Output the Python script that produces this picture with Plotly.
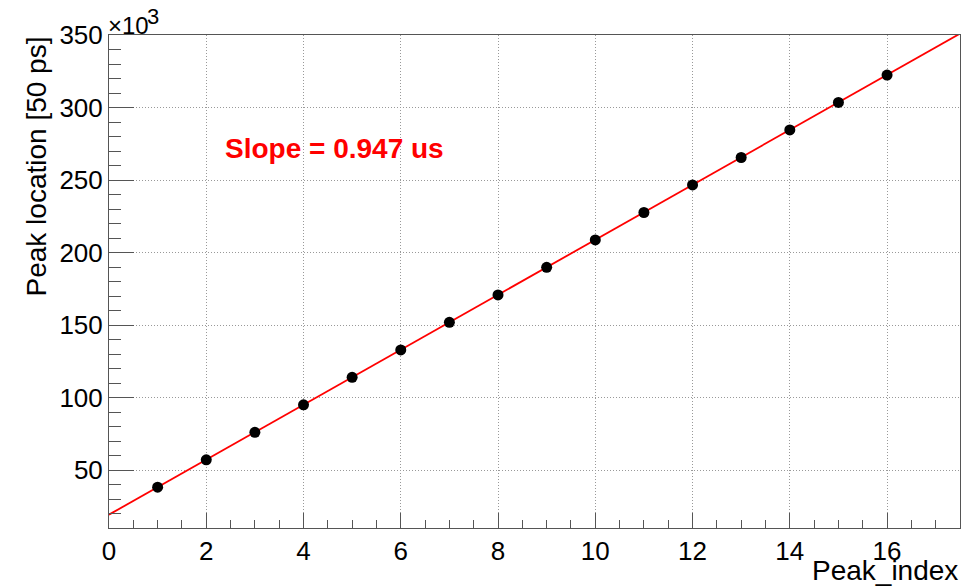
import plotly.graph_objects as go

# Data (peak location in units of 50 ps, shown in thousands)
peak_index = [1, 2, 3, 4, 5, 6, 7, 8, 9, 10, 11, 12, 13, 14, 15, 16]
peak_location_k = [38.4, 57.3, 76.2, 95.2, 114.1, 133.0, 152.0, 170.9,
                   189.9, 208.8, 227.7, 246.7, 265.6, 284.6, 303.5, 322.4]
fit_slope_k = 18.94
fit_intercept_k = 19.5
fit_x = [0.0, 17.5]
fit_y = [fit_intercept_k + fit_slope_k * x for x in fit_x]
x_tick_vals = [0, 2, 4, 6, 8, 10, 12, 14, 16]
y_tick_vals = [50, 100, 150, 200, 250, 300, 350]
slope_label = "Slope = 0.947 us"

FONT = "Liberation Sans, Arial, Helvetica, sans-serif"

fig = go.Figure()
fig.add_trace(go.Scatter(x=fit_x, y=fit_y, mode="lines",
                         line=dict(color="#ff0000", width=1.8),
                         showlegend=False, hoverinfo="skip"))
fig.add_trace(go.Scatter(x=peak_index, y=peak_location_k, mode="markers",
                         marker=dict(color="black", size=11),
                         showlegend=False))

fig.update_layout(
    width=974, height=587,
    margin=dict(l=109, r=14, t=35, b=59),
    paper_bgcolor="white", plot_bgcolor="white",
    font=dict(family=FONT, color="black"),
    xaxis=dict(
        range=[0, 17.5], tickvals=x_tick_vals,
        ticks="inside", ticklen=15, tickcolor="#555", tickwidth=1,
        showgrid=True, gridcolor="#999", griddash="1px,2px", gridwidth=1,
        showline=True, linecolor="#555", linewidth=1, mirror=True,
        zeroline=False, tickfont=dict(size=26, family=FONT),
        minor=dict(dtick=0.5, ticks="inside", ticklen=8, tickcolor="#555",
                   showgrid=False),
    ),
    yaxis=dict(
        range=[10.3, 350], tickvals=y_tick_vals,
        ticks="inside", ticklen=25, tickcolor="#555", tickwidth=1,
        showgrid=True, gridcolor="#999", griddash="1px,2px", gridwidth=1,
        showline=True, linecolor="#555", linewidth=1, mirror=True,
        zeroline=False, tickfont=dict(size=26, family=FONT),
        minor=dict(dtick=10, tick0=0, ticks="inside", ticklen=12,
                   tickcolor="#555", showgrid=False),
    ),
    annotations=[
        dict(text="Peak_index", xref="paper", yref="paper", x=1, y=0,
             xanchor="right", yanchor="top", yshift=-25, showarrow=False,
             font=dict(size=28, family=FONT)),
        dict(text="Peak location [50 ps]", xref="paper", yref="paper",
             x=0, y=1, xanchor="right", yanchor="top", xshift=-56,
             textangle=-90, showarrow=False, font=dict(size=28, family=FONT)),
        dict(text="×10", xref="paper", yref="paper", x=0, y=1,
             xanchor="left", yanchor="bottom", xshift=-3, yshift=-6,
             showarrow=False, font=dict(size=24, family=FONT)),
        dict(text="3", xref="paper", yref="paper", x=0, y=1,
             xanchor="left", yanchor="bottom", xshift=36, yshift=4,
             showarrow=False, font=dict(size=22, family=FONT)),
        dict(text="<b>" + slope_label + "</b>", xref="x", yref="y",
             x=2.34, y=272, xanchor="left", yanchor="middle",
             showarrow=False, font=dict(size=28, family=FONT, color="#ff0000")),
    ],
)

fig.write_html("out.html")
